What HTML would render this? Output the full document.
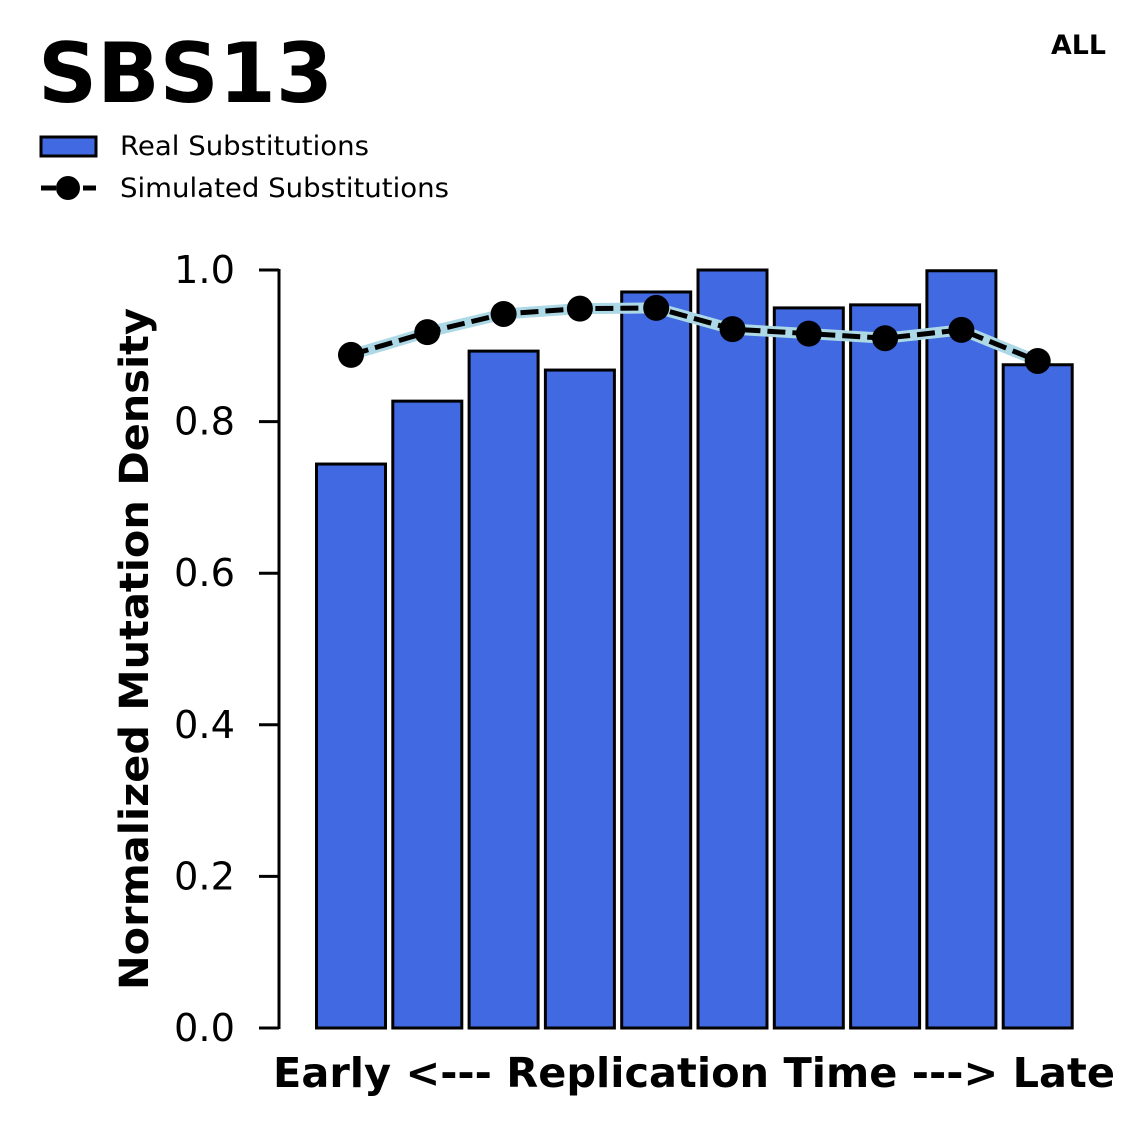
<!DOCTYPE html>
<html><head><meta charset="utf-8"><style>
body{margin:0;background:#fff;}
svg{display:block;font-family:"DejaVu Sans","Liberation Sans",sans-serif;}
</style></head><body>
<svg id="chart" width="1147" height="1125">
<text x="38" y="102" font-size="83" font-weight="bold" textLength="295" lengthAdjust="spacingAndGlyphs">SBS13</text>
<text x="1051" y="54" font-size="27" font-weight="bold" textLength="55" lengthAdjust="spacingAndGlyphs">ALL</text>
<g>
<rect x="41" y="137" width="55" height="19" fill="#4169e1" stroke="#000" stroke-width="3"/>
<text x="120" y="155" font-size="27" textLength="249" lengthAdjust="spacingAndGlyphs">Real Substitutions</text>
<line x1="41" y1="188" x2="96" y2="188" stroke="#000" stroke-width="5" stroke-dasharray="15,6"/>
<circle cx="68" cy="188" r="12" fill="#000"/>
<text x="120" y="197" font-size="27" textLength="329" lengthAdjust="spacingAndGlyphs">Simulated Substitutions</text>
</g>
<g id="plot"></g>
<text transform="translate(148,649) rotate(-90)" font-size="40" font-weight="bold" text-anchor="middle" textLength="682" lengthAdjust="spacingAndGlyphs">Normalized Mutation Density</text>
<text x="694" y="1087" font-size="41" font-weight="bold" text-anchor="middle" textLength="842" lengthAdjust="spacingAndGlyphs">Early &lt;--- Replication Time ---&gt; Late</text>
</svg>
<script>
const categories=[1,2,3,4,5,6,7,8,9,10];
const realValues=[0.744,0.827,0.893,0.868,0.971,1.0,0.950,0.954,0.999,0.875];
const simValues=[0.888,0.918,0.942,0.949,0.950,0.922,0.916,0.910,0.921,0.880];
const yTicks=[0.0,0.2,0.4,0.6,0.8,1.0];
const yTickLabels=["0.0","0.2","0.4","0.6","0.8","1.0"];
const NS="http://www.w3.org/2000/svg";
const g=document.getElementById('plot');
const y=v=>1028-v*758;
const x=i=>351+i*76.3;
function mk(t,a){const e=document.createElementNS(NS,t);for(const k in a)e.setAttribute(k,a[k]);g.appendChild(e);return e;}
const spine=mk('line',{x1:279,y1:269,x2:279,y2:1029,stroke:'#000','stroke-width':3});


yTicks.forEach((t,i)=>{
 const tk=mk('line',{x1:259,y1:y(t),x2:279,y2:y(t),stroke:'#000','stroke-width':3});
 
 
 const tl=mk('text',{x:174,y:y(t)+13,'font-size':38,textLength:61,lengthAdjust:'spacingAndGlyphs'});
 tl.textContent=yTickLabels[i];
 
 
});
categories.forEach((c,i)=>{
 const b=mk('rect',{x:x(i)-34.5,y:y(realValues[i]),width:69,height:y(0)-y(realValues[i]),fill:'#4169e1',stroke:'#000','stroke-width':3});
 
 
});
const pts=simValues.map((v,i)=>x(i)+','+y(v)).join(' ');
const l1=mk('polyline',{points:pts,fill:'none',stroke:'#add8e6','stroke-width':11,'stroke-linejoin':'round'});


const l2=mk('polyline',{points:pts,fill:'none',stroke:'#000','stroke-width':5,'stroke-dasharray':'18,7'});


simValues.forEach((v,i)=>{
 const p=mk('circle',{cx:x(i),cy:y(v),r:13,fill:'#000'});
 
 
});
</script>
</body></html>
